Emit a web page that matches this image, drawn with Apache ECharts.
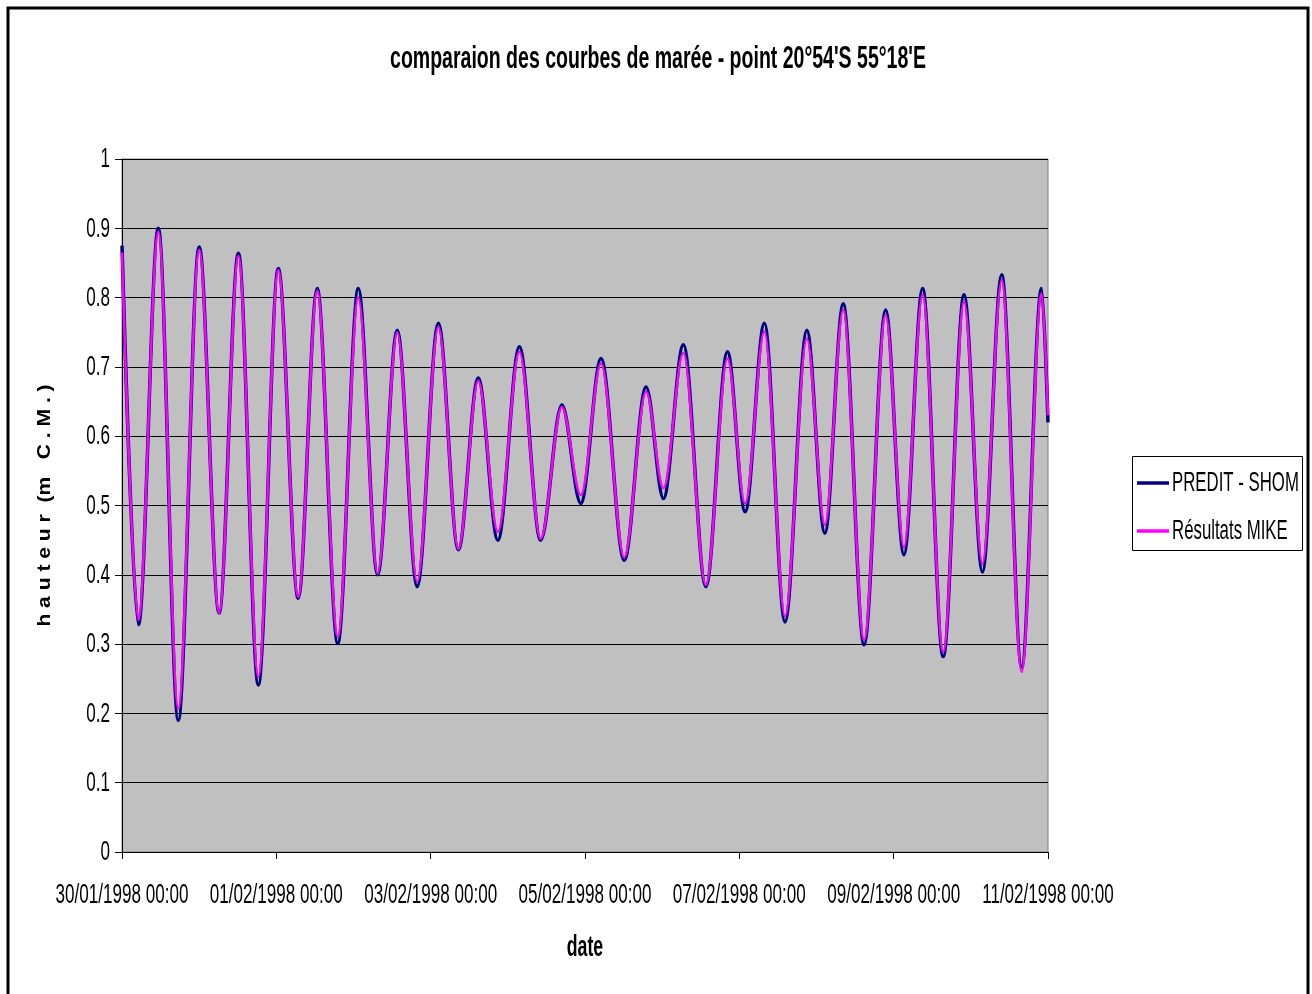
<html>
    <head>
        <meta charset="utf-8">
        <script src="https://cdn.jsdelivr.net/npm/echarts@6/dist/echarts.min.js"></script>
    </head>
    <body style="margin:0;background:#fff">
        <div id="main" style="width:1312px;height:994px"></div>
        <script>

        // hours since 30/01/1998 00:00 of each high / low water
        var hours = [0, 5.1, 11.3, 17.5, 24.0, 30.2, 36.2, 42.4, 48.6, 54.8, 60.7, 67.1, 73.5, 79.5,
            85.6, 91.8, 98.4, 104.6, 110.8, 116.9, 123.6, 130.2, 136.8, 142.7, 149.0, 156.2, 163.0,
            168.4, 174.6, 181.6, 188.3, 193.8, 199.8, 206.2, 213.0, 218.6, 224.3, 230.8, 237.5,
            243.2, 249.0, 255.4, 261.9, 267.6, 273.6, 279.8, 286.0, 288];

        var predit = [0.875, 0.328, 0.90, 0.19, 0.873, 0.345, 0.864, 0.241, 0.842, 0.366, 0.813, 0.301,
            0.813, 0.40, 0.753, 0.383, 0.763, 0.436, 0.684, 0.45, 0.729, 0.45, 0.645, 0.503, 0.712,
            0.421, 0.671, 0.51, 0.732, 0.383, 0.722, 0.491, 0.763, 0.332, 0.753, 0.46, 0.791, 0.299,
            0.782, 0.429, 0.813, 0.282, 0.804, 0.404, 0.833, 0.267, 0.813, 0.62];

        var mike = [0.865, 0.335, 0.895, 0.207, 0.869, 0.345, 0.86, 0.253, 0.84, 0.368, 0.81, 0.311,
            0.80, 0.402, 0.75, 0.39, 0.758, 0.437, 0.68, 0.462, 0.722, 0.452, 0.642, 0.515, 0.705,
            0.425, 0.664, 0.525, 0.72, 0.385, 0.712, 0.503, 0.751, 0.34, 0.741, 0.472, 0.782, 0.306,
            0.775, 0.44, 0.804, 0.289, 0.794, 0.416, 0.825, 0.26, 0.806, 0.63];

        var seriesNames = ['PREDIT - SHOM', 'Résultats MIKE'];
        var seriesColors = ['#000080', '#ff00ff'];

        var xTickHours = [0, 48, 96, 144, 192, 240, 288];
        var xTickLabels = ['30/01/1998 00:00', '01/02/1998 00:00', '03/02/1998 00:00', '05/02/1998 00:00',
            '07/02/1998 00:00', '09/02/1998 00:00', '11/02/1998 00:00'];
        var yTicks = [0, 0.1, 0.2, 0.3, 0.4, 0.5, 0.6, 0.7, 0.8, 0.9, 1];
        var yTickLabels = ['0', '0.1', '0.2', '0.3', '0.4', '0.5', '0.6', '0.7', '0.8', '0.9', '1'];

        var titleText = "comparaion des courbes de marée - point 20°54'S 55°18'E";
        var xName = 'date';
        var yName = 'h a u t e u r  (m   C . M . )';

        // the excel text is squeezed sideways, so text is drawn narrowed
        var SX = 0.61;
        var FAM = "'Liberation Sans', Arial, sans-serif";

        function pair(xs, ys) {
            return xs.map(function (x, i) { return [x, ys[i]]; });
        }

        function txt(x, y, s, font, align, extra) {
            var el = {
                type: 'text',
                x: x,
                y: y,
                scaleX: SX,
                silent: true,
                z: 100,
                style: { text: s, font: font, fill: '#000', align: align, verticalAlign: 'middle' }
            };
            for (var k in extra) el[k] = extra[k];
            return el;
        }

        var myChart = echarts.init(document.getElementById('main'));

        option = {
            backgroundColor: '#fff',
            animation: false,
            grid: {
                left: 122,
                top: 159,
                width: 926,
                height: 693,
                show: true,
                backgroundColor: '#c0c0c0',
                borderColor: '#808080',
                borderWidth: 1
            },
            xAxis: {
                type: 'value',
                min: 0,
                max: 288,
                interval: 48,
                axisLine: { lineStyle: { color: '#000', width: 1 } },
                axisTick: { length: 7, lineStyle: { color: '#000' } },
                splitLine: { show: false },
                axisLabel: { show: false }
            },
            yAxis: {
                type: 'value',
                min: 0,
                max: 1,
                interval: 0.1,
                axisLine: { show: true, lineStyle: { color: '#000', width: 1 } },
                axisTick: { show: true, length: 7, lineStyle: { color: '#000' } },
                splitLine: { lineStyle: { color: '#000', width: 1 } },
                axisLabel: { show: false }
            },
            series: [
                {
                    name: seriesNames[0],
                    type: 'line',
                    data: pair(hours, predit),
                    symbol: 'none',
                    smooth: 0.34,
                    smoothMonotone: 'x',
                    color: seriesColors[0],
                    lineStyle: { color: seriesColors[0], width: 3.5 }
                },
                {
                    name: seriesNames[1],
                    type: 'line',
                    data: pair(hours, mike),
                    symbol: 'none',
                    smooth: 0.34,
                    smoothMonotone: 'x',
                    color: seriesColors[1],
                    lineStyle: { color: seriesColors[1], width: 2.5 }
                }
            ]
        };

        myChart.setOption(option);

        // texts, frame and legend placed from the axes
        var g = [];
        g.push({
            type: 'rect',
            shape: { x: 8, y: 8, width: 1300, height: 1000 },
            style: { fill: 'none', stroke: '#000', lineWidth: 3 },
            silent: true
        });
        g.push(txt(658, 59, titleText, 'bold 32px ' + FAM, 'center'));

        xTickHours.forEach(function (h, i) {
            var p = myChart.convertToPixel({ gridIndex: 0 }, [h, 0]);
            g.push(txt(p[0], p[1] + 43, xTickLabels[i], '28px ' + FAM, 'center'));
        });
        yTicks.forEach(function (v, i) {
            var p = myChart.convertToPixel({ gridIndex: 0 }, [0, v]);
            g.push(txt(p[0] - 12, p[1] + 0.5, yTickLabels[i], '28px ' + FAM, 'right'));
        });

        var c0 = myChart.convertToPixel({ gridIndex: 0 }, [144, 0.5]);
        g.push(txt(c0[0], 948, xName, 'bold 29px ' + FAM, 'center'));
        g.push(txt(45, c0[1], yName, 'bold 18px ' + FAM, 'center', { rotation: Math.PI / 2, scaleX: 1.17 }));

        // legend box
        g.push({
            type: 'rect',
            shape: { x: 1132.5, y: 456.5, width: 170, height: 94 },
            style: { fill: '#fff', stroke: '#000', lineWidth: 1 },
            silent: true, z: 90
        });
        seriesNames.forEach(function (name, i) {
            var y = 483 + i * 48;
            g.push({
                type: 'line',
                shape: { x1: 1137, y1: y, x2: 1169, y2: y },
                style: { stroke: seriesColors[i], lineWidth: 3.5 },
                silent: true, z: 95
            });
            g.push(txt(1172, y + 0.5, name, '28px ' + FAM, 'left', { scaleX: 0.6 }));
        });

        myChart.setOption({ graphic: g });

        </script>
    </body>
</html>
